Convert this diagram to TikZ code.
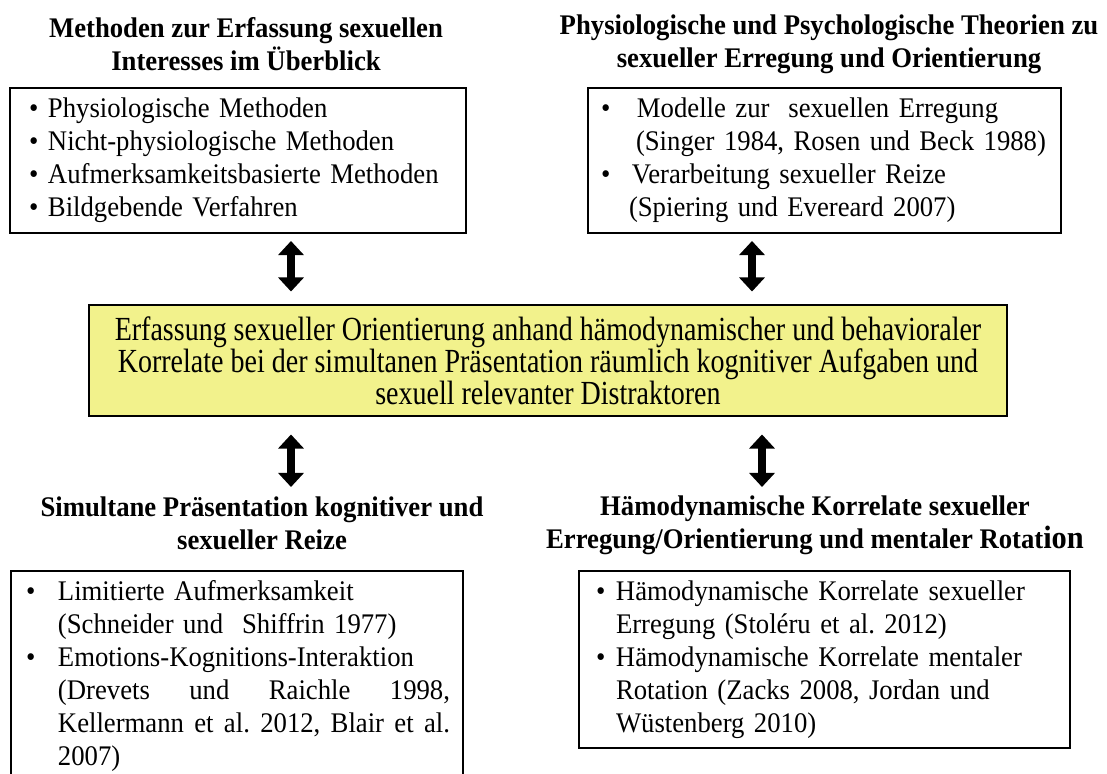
\documentclass[tikz,border=0pt]{standalone}
\usepackage{fontspec}
\setmainfont{Liberation Serif}[FakeStretch=0.94]
\newfontfamily\narrowserif{Liberation Serif}[FakeStretch=0.83]
\usepackage{tikz}
\usetikzlibrary{arrows.meta, positioning}
\newlength{\unitpx}
\setlength{\unitpx}{0.025cm}
\definecolor{coreyellow}{RGB}{242,242,140}
\newcommand{\bitem}[2]{\makebox[#1\unitpx][l]{\textbullet}#2}
\newcommand{\bcont}[2]{\hspace*{#1\unitpx}#2}
\frenchspacing

\begin{document}
\begin{tikzpicture}[x=\unitpx, y=-\unitpx,
    headline/.style={font=\bfseries\fontsize{20.2}{23.5}\selectfont, align=center, inner sep=0pt},
    listbox/.style={draw, line width=2.1pt, anchor=north west, outer sep=0pt, inner ysep=0pt,
                    align=left, font=\fontsize{20.2}{23.5}\selectfont},
    corebox/.style={draw, line width=2.1pt, fill=coreyellow, align=center, inner sep=0pt,
                    font=\narrowserif\fontsize{24}{22.8}\selectfont},
    dblarr/.style={line width=5.9pt,
                   {Triangle[width=17.8pt,length=10pt]}-{Triangle[width=17.8pt,length=10pt]}}
  ]
    \useasboundingbox (0,0) rectangle (1107,774);

    \node[headline] (tltitle) at (246,44)
      {Methoden zur Erfassung sexuellen\\Interesses im Überblick};
    \node[headline] (trtitle) at (829,44)
      {Physiologische und Psychologische Theorien zu\\sexueller Erregung und Orientierung};

    \node[listbox, minimum width=456\unitpx, minimum height=145\unitpx,
          inner xsep=19\unitpx, text width=418\unitpx] (tlbox) at (10,88)
      {\bitem{19}{Physiologische Methoden}\\
       \bitem{19}{Nicht-physiologische Methoden}\\
       \bitem{19}{Aufmerksamkeitsbasierte Methoden}\\
       \bitem{19}{Bildgebende Verfahren}};
    \node[listbox, minimum width=473\unitpx, minimum height=145\unitpx,
          inner xsep=13\unitpx, text width=447\unitpx] (trbox) at (588,88)
      {\bitem{36}{Modelle zur\ \ sexuellen Erregung}\\
       \bcont{35}{(Singer 1984, Rosen und Beck 1988)}\\
       \bitem{31}{Verarbeitung sexueller Reize}\\
       \bcont{28}{(Spiering und Evereard 2007)}};

    \node[corebox, minimum width=918\unitpx, minimum height=111\unitpx] (core) at (548,360.5)
      {Erfassung sexueller Orientierung anhand hämodynamischer und behavioraler\\
       Korrelate bei der simultanen Präsentation räumlich kognitiver Aufgaben und\\
       sexuell relevanter Distraktoren};

    \node[headline] (bltitle) at (262,523)
      {Simultane Präsentation kognitiver und\\sexueller Reize};
    \node[headline] (brtitle) at (815,525)
      {Hämodynamische Korrelate sexueller\\Erregung/Orientierung und mentaler
       Rotat{\fontsize{23}{23.5}\selectfont ion}};

    \node[listbox, minimum width=452\unitpx, minimum height=210\unitpx,
          inner xsep=15\unitpx, text width=422\unitpx] (blbox) at (11,571)
      {\bitem{32}{Limitierte Aufmerksamkeit}\\
       \bcont{32}{(Schneider und\ \ Shiffrin 1977)}\\
       \bitem{32}{Emotions-Kognitions-Interaktion}\\
       \bcont{32}{\makebox[392\unitpx][l]{(Drevets\hfill und\hfill Raichle\hfill 1998,}}\\
       \bcont{32}{\makebox[392\unitpx][l]{Kellermann\hfill et\hfill al.\hfill 2012,\hfill Blair\hfill et\hfill al.}}\\
       \bcont{32}{2007)}};
    \node[listbox, minimum width=491\unitpx, minimum height=177\unitpx,
          inner xsep=17\unitpx, text width=457\unitpx] (brbox) at (579,571)
      {\bitem{20}{Hämodynamische Korrelate sexueller}\\
       \bcont{20}{Erregung (Stoléru et al. 2012)}\\
       \bitem{20}{Hämodynamische Korrelate mentaler}\\
       \bcont{20}{Rotation (Zacks 2008, Jordan und}\\
       \bcont{20}{Wüstenberg 2010)}};

    \coordinate (ax1) at (291,0);
    \coordinate (ax2) at (752,0);
    \coordinate (ax3) at (291,0);
    \coordinate (ax4) at (762,0);

    \draw[dblarr, shorten <=8\unitpx, shorten >=12\unitpx] (tlbox.south -| ax1) -- (core.north -| ax1);
    \draw[dblarr, shorten <=8\unitpx, shorten >=12\unitpx] (trbox.south -| ax2) -- (core.north -| ax2);
    \draw[dblarr, shorten <=17\unitpx, shorten >=84\unitpx] (core.south -| ax3) -- (blbox.north -| ax3);
    \draw[dblarr, shorten <=17\unitpx, shorten >=84\unitpx] (core.south -| ax4) -- (brbox.north -| ax4);
  \end{tikzpicture}
\end{document}
